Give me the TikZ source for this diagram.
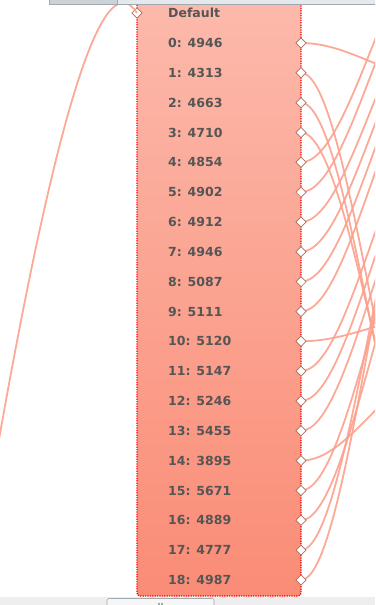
\documentclass[tikz,border=0pt]{standalone}
\usepackage{fontspec}
\setmainfont{DejaVu Sans}
\usetikzlibrary{shapes.geometric}
\definecolor{wirec}{RGB}{252,160,140}
\definecolor{portc}{RGB}{170,110,90}
\definecolor{txtc}{RGB}{85,85,85}
\definecolor{boxtop}{RGB}{252,186,172}
\definecolor{boxbot}{RGB}{250,140,118}
\definecolor{barlight}{RGB}{229,232,236}
\definecolor{bardark}{RGB}{205,210,214}
\definecolor{barline}{RGB}{160,168,176}
\definecolor{stripc}{RGB}{238,238,238}
\definecolor{thumbc}{RGB}{246,246,246}
\begin{document}
\begin{tikzpicture}[x=1pt,y=-1pt,
  wire/.style={draw=wirec,line width=1.8pt,opacity=0.9},
  portd/.style={shape=diamond,draw=portc,fill=white,line width=0.7pt,minimum width=10.5pt,minimum height=10.5pt,inner sep=0pt},
  rowlabel/.style={anchor=west,inner sep=0pt,text=txtc,font=\bfseries\fontsize{12.5}{14}\selectfont}]
\useasboundingbox (0,0) rectangle (375,605);
\clip (0,0) rectangle (375,605);
% node box
\path[top color=boxtop,bottom color=boxbot,draw=red,line width=1.3pt,dash pattern=on 1.2pt off 1.2pt,rounded corners=3pt]
  (137,-10) rectangle (301,596);
% input port and its wire
\node[portd] (pin) at (137,13) {};
\coordinate (src) at (-2,445);
\draw[wire] (src) .. controls (50,150) and (100,-45) .. (pin.center);
% rows, ports, wires
\foreach \i/\lab/\ye in {0/4946/80,1/4313/520,2/4663/540,3/4710/510,4/4854/-60,5/4902/-40,6/4912/0,7/4946/20,8/5087/40,9/5111/60,10/5120/315,11/5147/120,12/5246/140,13/5455/160,14/3895/370,15/5671/180,16/4889/200,17/4777/100,18/4987/90}{
  \pgfmathsetmacro{\yy}{43+29.83*\i}
  \coordinate (e\i) at (440,\ye);
  \coordinate (q\i) at (301,\yy);
  \draw[wire] (q\i) .. controls +(50,0) and +(-50,0) .. (e\i);
  \node[rowlabel] (l\i) at (168,\yy) {\i: \lab};
}
\foreach \i in {0,...,18}{
  \node[portd] (p\i) at (q\i) {};
}
\node[rowlabel] (ldef) at (168,13) {Default};
% top bar
\fill[barlight] (49,-1) rectangle (376,4.3);
\fill[bardark] (49,-1) rectangle (117,4.3);
\draw[barline,line width=0.8pt] (49,-1) -- (49,4.3) -- (376,4.3);
\draw[barline,line width=0.6pt] (117,-1) -- (117,4.3);
% bottom strip
\fill[stripc] (0,596.5) rectangle (375,606);
\draw[barline,line width=0.6pt,fill=thumbc,rounded corners=2pt] (107,607) -- (107,598.5) -- (214,598.5) -- (214,607);
\foreach \gx in {158,159.5,161,162.5}{\draw[barline,line width=0.5pt] (\gx,602.5) -- (\gx,605);}
\end{tikzpicture}
\end{document}
